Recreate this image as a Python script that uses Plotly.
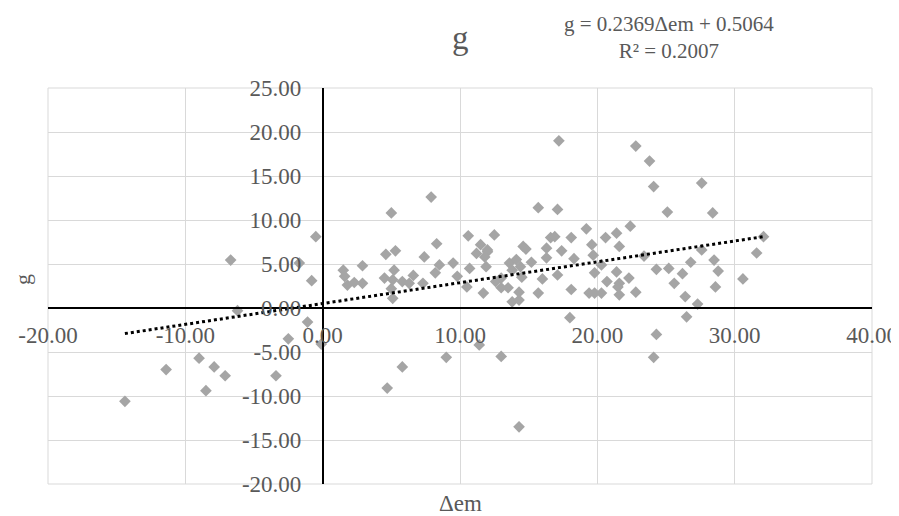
import plotly.graph_objects as go

# ---- data ----
delta_em = [
    -14.4, -11.4, -9.0, -8.5, -7.9, -7.1, -6.7, -6.2, -3.4, -2.5, -1.1, -0.8, -0.5, -1.7, -0.1,
    5.8, 4.7, 9.0, 11.4, 13.0, 14.3, 24.1, 24.3, 18.0, 26.5,
    27.3, 13.8, 14.3,
    7.9, 5.0, 8.3, 4.6, 5.3, 7.4, 1.5, 1.6, 1.8, 2.3, 2.9, 2.9, 4.5, 5.2, 5.1, 5.0, 5.1,
    5.8, 6.6, 6.3, 7.3, 8.2, 8.5, 9.5, 9.8,
    10.5, 10.6, 10.7, 11.5, 11.2, 12.0, 11.9, 11.7, 12.5, 12.6, 13.0, 13.0, 13.6, 13.8, 14.1,
    14.4, 14.3, 14.5, 14.6, 14.8, 15.2, 15.7, 15.7, 16.0, 16.3, 16.3, 16.6, 16.9, 17.1, 17.2,
    17.1, 17.4, 18.1, 18.1, 18.3, 19.2, 19.4, 19.6, 19.7, 19.8, 19.8, 13.5, 12.0, 11.8,
    20.3, 20.6, 20.7, 21.4, 21.4, 21.6, 21.6, 21.6, 22.3, 22.4, 22.8, 22.8, 23.4, 23.8, 24.1,
    24.3, 25.1, 25.2, 25.6, 26.2, 26.4, 26.8, 27.6, 27.6, 28.4, 28.5, 28.8, 28.6, 30.6, 31.6,
    32.1, 20.3, 21.5,
]
g_values = [
    -10.6, -7.0, -5.7, -9.4, -6.7, -7.7, 5.45, -0.3, -7.7, -3.5, -1.6, 3.1, 8.1, 5.1, -4.1,
    -6.7, -9.1, -5.6, -4.2, -5.5, -13.5, -5.6, -3.0, -1.1, -1.0,
    0.45, 0.7, 0.9,
    12.6, 10.8, 7.3, 6.1, 6.5, 5.8, 4.3, 3.6, 2.6, 2.9, 4.8, 2.8, 3.4, 4.3, 3.2, 2.2, 1.1,
    3.0, 3.7, 2.8, 2.8, 4.0, 4.9, 5.1, 3.6,
    2.4, 8.2, 4.5, 7.2, 6.2, 6.4, 4.7, 1.7, 8.3, 3.0, 2.3, 3.4, 5.1, 4.3, 5.5,
    4.7, 1.8, 3.5, 7.0, 6.7, 5.2, 11.4, 1.7, 3.3, 5.7, 6.8, 8.0, 8.1, 11.2, 19.0,
    3.75, 6.5, 8.0, 2.1, 5.6, 9.0, 1.7, 7.2, 6.0, 4.0, 1.7, 2.3, 6.6, 5.8,
    1.7, 8.0, 3.0, 4.1, 8.5, 7.0, 2.8, 1.5, 3.4, 9.3, 1.8, 18.4, 5.9, 16.7, 13.8,
    4.4, 10.9, 4.5, 2.8, 3.9, 1.3, 5.2, 14.2, 6.6, 10.8, 5.45, 4.2, 2.4, 3.3, 6.25,
    8.1, 4.9, 2.4,
]

# trendline shown on the chart
slope = 0.2369
intercept = 0.5064
trend_x = [min(delta_em), max(delta_em)]
trend_y = [slope * v + intercept for v in trend_x]

x_ticks = [-20, -10, 0, 10, 20, 30, 40]
y_ticks = [-20, -15, -10, -5, 0, 5, 10, 15, 20, 25]
x_range = [-20, 40]
y_range = [-20, 25]

FONT = "Liberation Serif"
TXT = "#595959"

fig = go.Figure()
fig.add_trace(go.Scatter(
    x=delta_em, y=g_values, mode="markers",
    marker=dict(symbol="diamond", size=9, color="#A5A5A5", line=dict(width=0)),
    showlegend=False, hoverinfo="x+y",
))
fig.add_trace(go.Scatter(
    x=trend_x, y=trend_y, mode="lines",
    line=dict(color="black", width=3, dash="dot"),
    showlegend=False, hoverinfo="skip",
))

xpos = (0 - y_range[0]) / (y_range[1] - y_range[0])
ypos = (0 - x_range[0]) / (x_range[1] - x_range[0])

# page body adds an 8px offset, so the figure is 8px smaller than the window
fig.update_layout(
    width=891, height=508,
    margin=dict(l=40, r=27, t=80, b=32),
    paper_bgcolor="white", plot_bgcolor="white",
    font=dict(family=FONT, color=TXT),
    xaxis=dict(
        range=x_range, tickvals=x_ticks, ticktext=[f"{v:.2f}" for v in x_ticks],
        showgrid=True, gridcolor="#D9D9D9", gridwidth=1, automargin=False,
        zeroline=False, showline=True, linecolor="black", linewidth=1.5,
        anchor="free", position=xpos, ticks="", ticklabelstandoff=7,
        ticklabeloverflow="allow",
        tickfont=dict(family=FONT, size=23, color=TXT),
    ),
    yaxis=dict(
        range=y_range, tickvals=y_ticks, ticktext=[f"{v:.2f}" for v in y_ticks],
        showgrid=True, gridcolor="#D9D9D9", gridwidth=1, automargin=False,
        zeroline=False, showline=True, linecolor="black", linewidth=1.5,
        anchor="free", position=ypos, ticks="", ticklabelstandoff=16,
        ticklabeloverflow="allow",
        tickfont=dict(family=FONT, size=23, color=TXT),
    ),
    shapes=[dict(type="rect", xref="paper", yref="paper", x0=0, x1=1, y0=0, y1=1,
                 line=dict(color="#D9D9D9", width=1), layer="below")],
    annotations=[
        dict(text="g", xref="paper", yref="paper", x=0.5, y=1, yshift=50,
             xanchor="center", yanchor="middle",
             showarrow=False, font=dict(family=FONT, size=33, color=TXT)),
        dict(text="g = 0.2369Δem + 0.5064<br>R² = 0.2007", xref="paper", yref="paper",
             x=0.7535, y=1, yshift=51, showarrow=False, align="center",
             xanchor="center", yanchor="middle",
             font=dict(family=FONT, size=21, color=TXT)),
        dict(text="Δem", xref="paper", yref="paper", x=0.5, y=0, yshift=-19,
             xanchor="center", yanchor="middle",
             showarrow=False, font=dict(family=FONT, size=23, color=TXT)),
        dict(text="g", xref="paper", yref="paper", x=0, xshift=-26, y=0.5, yshift=6,
             showarrow=False, textangle=-90, font=dict(family=FONT, size=22, color=TXT),
             xanchor="center", yanchor="middle"),
    ],
)

fig.write_html("out.html")
